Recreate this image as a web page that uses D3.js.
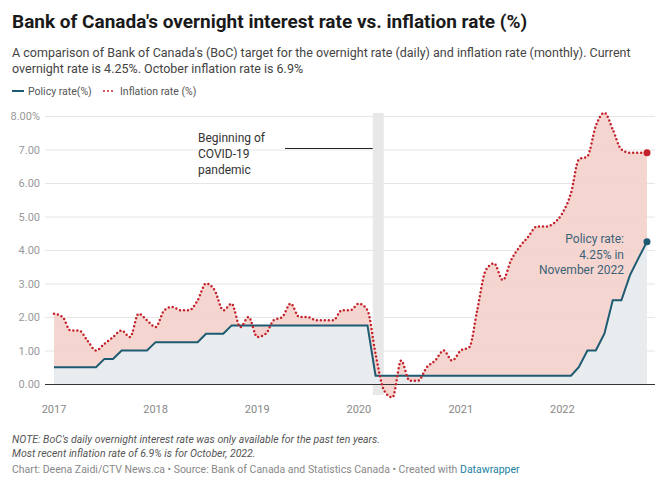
<!DOCTYPE html>
<html>
<head>
<meta charset="utf-8">
<script src="https://cdn.jsdelivr.net/npm/d3@7"></script>
<style>
  body { margin: 0; background: #fff; font-family: Roboto, "Noto Sans", sans-serif; }
  svg text { font-family: Roboto, "Noto Sans", sans-serif; }
</style>
</head>
<body>
<svg id="chart" width="660" height="488"></svg>
<script>
// monthly values, Jan 2017 onward
const inflation = [
  2.1, 2.0, 1.6, 1.6, 1.3, 1.0, 1.2, 1.4, 1.6, 1.4, 2.1, 1.9,
  1.7, 2.2, 2.3, 2.2, 2.2, 2.5, 3.0, 2.8, 2.2, 2.4, 1.7, 2.0,
  1.4, 1.5, 1.9, 2.0, 2.4, 2.0, 2.0, 1.9, 1.9, 1.9, 2.2, 2.2,
  2.4, 2.2, 0.9, -0.2, -0.4, 0.7, 0.1, 0.1, 0.5, 0.7, 1.0, 0.7,
  1.0, 1.1, 2.2, 3.4, 3.6, 3.1, 3.7, 4.1, 4.4, 4.7, 4.7, 4.8,
  5.1, 5.7, 6.7, 6.8, 7.7, 8.1, 7.6, 7.0, 6.9, 6.9, 6.9
]
const policy = [
  0.5, 0.5, 0.5, 0.5, 0.5, 0.5, 0.75, 0.75, 1.0, 1.0, 1.0, 1.0,
  1.25, 1.25, 1.25, 1.25, 1.25, 1.25, 1.5, 1.5, 1.5, 1.75, 1.75, 1.75,
  1.75, 1.75, 1.75, 1.75, 1.75, 1.75, 1.75, 1.75, 1.75, 1.75, 1.75, 1.75,
  1.75, 1.75, 0.25, 0.25, 0.25, 0.25, 0.25, 0.25, 0.25, 0.25, 0.25, 0.25,
  0.25, 0.25, 0.25, 0.25, 0.25, 0.25, 0.25, 0.25, 0.25, 0.25, 0.25, 0.25,
  0.25, 0.25, 0.5, 1.0, 1.0, 1.5, 2.5, 2.5, 3.25, 3.75, 4.25
]
const yTicks = [0, 1, 2, 3, 4, 5, 6, 7, 8]
const xYears = [2017, 2018, 2019, 2020, 2021, 2022]

const data = policy.map((p, i) => ({ date: new Date(2017, i, 1), policy: p, inflation: inflation[i] }))

const svg = d3.select("#chart")
const x = d3.scaleTime().domain([new Date(2017, 0, 1), new Date(2022, 10, 1)]).range([54, 647])
const y = d3.scaleLinear().domain([0, 8]).range([384, 116])
const left = 45, right = 655

// header
svg.append("text").attr("x", 12).attr("y", 28).attr("font-size", 19).attr("font-weight", 700)
  .attr("fill", "#1a1a1a").text("Bank of Canada's overnight interest rate vs. inflation rate (%)")
const sub = ["A comparison of Bank of Canada's (BoC) target for the overnight rate (daily) and inflation rate (monthly). Current",
  "overnight rate is 4.25%. October inflation rate is 6.9%"]
sub.forEach((s, i) => svg.append("text").attr("x", 12).attr("y", 57 + i * 16).attr("font-size", 12.5).attr("fill", "#444").text(s))

// legend
svg.append("line").attr("x1", 12).attr("x2", 24).attr("y1", 91).attr("y2", 91).attr("stroke", "#1d5b73").attr("stroke-width", 2)
svg.append("text").attr("x", 28).attr("y", 95).attr("font-size", 10.5).attr("fill", "#555").text("Policy rate(%)")
svg.append("line").attr("x1", 104).attr("x2", 116).attr("y1", 91).attr("y2", 91).attr("stroke", "#c4222b")
  .attr("stroke-width", 2).attr("stroke-dasharray", "0 4").attr("stroke-linecap", "round")
svg.append("text").attr("x", 120).attr("y", 95).attr("font-size", 10.5).attr("fill", "#555").text("Inflation rate (%)")

// grid
svg.selectAll(".grid").data(yTicks.filter(d => d > 0)).join("line")
  .attr("x1", left).attr("x2", right).attr("y1", d => y(d) + 0.5).attr("y2", d => y(d) + 0.5)
  .attr("stroke", "#e6e6e6")
svg.selectAll(".ylab").data(yTicks).join("text")
  .attr("x", 40).attr("y", d => y(d) + 4).attr("text-anchor", "end")
  .attr("font-size", 11).attr("fill", "#999")
  .text(d => d === 8 ? d.toFixed(2) + "%" : d.toFixed(2))

// covid band
svg.append("rect").attr("x", x(new Date(2020, 1, 20))).attr("y", 113)
  .attr("width", 11).attr("height", 282).attr("fill", "#e8e8e8")

// areas
svg.append("path").datum(data).attr("fill", "#e9ecef")
  .attr("d", d3.area().x(d => x(d.date)).y0(y(0)).y1(d => y(d.policy)))
svg.append("path").datum(data).attr("fill", "#f4d0cb").attr("opacity", 0.9)
  .attr("d", d3.area().x(d => x(d.date)).y0(d => y(d.policy)).y1(d => y(d.inflation)).curve(d3.curveMonotoneX))

svg.append("line").attr("x1", left).attr("x2", right).attr("y1", y(0) + 0.5).attr("y2", y(0) + 0.5).attr("stroke", "#333")

// lines
svg.append("path").datum(data).attr("fill", "none").attr("stroke", "#1d5b73").attr("stroke-width", 2)
  .attr("d", d3.line().x(d => x(d.date)).y(d => y(d.policy)))
svg.append("path").datum(data).attr("fill", "none").attr("stroke", "#c4222b").attr("stroke-width", 2.5)
  .attr("stroke-dasharray", "0 4").attr("stroke-linecap", "round")
  .attr("d", d3.line().x(d => x(d.date)).y(d => y(d.inflation)).curve(d3.curveMonotoneX))

const last = data[data.length - 1]
svg.append("circle").attr("cx", x(last.date)).attr("cy", y(last.inflation)).attr("r", 3.5).attr("fill", "#c4222b")
svg.append("circle").attr("cx", x(last.date)).attr("cy", y(last.policy)).attr("r", 3.5).attr("fill", "#1d5b73")

// x axis labels
svg.selectAll(".xlab").data(xYears).join("text")
  .attr("x", d => x(new Date(d, 0, 1))).attr("y", 413).attr("text-anchor", "middle")
  .attr("font-size", 11).attr("fill", "#888").text(d => d)

// annotations
svg.append("line").attr("x1", 285).attr("x2", x(new Date(2020, 1, 20))).attr("y1", 148.5).attr("y2", 148.5)
  .attr("stroke", "#222").attr("stroke-width", 1)
;["Beginning of", "COVID-19", "pandemic"].forEach((s, i) =>
  svg.append("text").attr("x", 198).attr("y", 142 + i * 16).attr("font-size", 12).attr("fill", "#333").text(s))
;["Policy rate:", "4.25% in", "November 2022"].forEach((s, i) =>
  svg.append("text").attr("x", 624).attr("y", 243 + i * 15.5).attr("text-anchor", "end")
    .attr("font-size", 12).attr("fill", "#3d6277").text(s))

// notes
;["NOTE: BoC's daily overnight interest rate was only available for the past ten years.",
  "Most recent inflation rate of 6.9% is for October, 2022."].forEach((s, i) =>
  svg.append("text").attr("x", 12).attr("y", 443 + i * 13.5).attr("font-size", 10.5)
    .attr("font-style", "italic").attr("fill", "#555").text(s))
const cr = svg.append("text").attr("x", 12).attr("y", 473).attr("font-size", 10.5).attr("fill", "#888")
cr.append("tspan").text("Chart: Deena Zaidi/CTV News.ca • Source: Bank of Canada and Statistics Canada • Created with ")
cr.append("tspan").attr("fill", "#1d81a2").text("Datawrapper")
</script>
</body>
</html>
